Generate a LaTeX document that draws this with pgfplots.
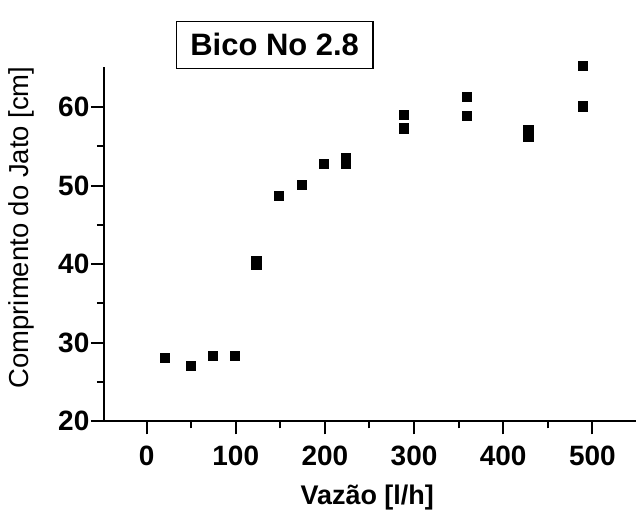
\documentclass[border=0pt]{standalone}
\usepackage{pgfplots}
\pgfplotsset{compat=1.18}
\usepackage{fontspec}
\setmainfont{Liberation Sans}

\pgfplotstableread{
x    y
20   28.1
49   27.1
74   28.4
99   28.4
123  40.4
123  39.9
148  48.7
174  50.1
199  52.8
223  53.5
223  52.8
288  59.0
288  57.3
359  61.3
359  58.9
428  57.1
428  56.2
489  65.2
489  60.1
}\jetdata

\begin{document}
\begin{tikzpicture}[x=1pt,y=1pt]
\begin{axis}[
  name=main,
  scale only axis,
  width=533pt, height=355pt,
  xmin=-48, xmax=549,
  ymin=20, ymax=65.1,
  axis x line*=bottom, axis y line*=left,
  axis line style={line width=2pt,-},
  xtick={0,100,...,500},
  minor xtick={50,150,...,450},
  ytick={20,30,...,60},
  minor ytick={25,35,...,55},
  tick align=outside,
  major tick length=13pt, minor tick length=7pt,
  every tick/.style={line width=2pt,black},
  /pgf/number format/assume math mode=true,
  tick label style={font=\bfseries\fontsize{28}{30}\selectfont},
  xticklabel style={yshift=-8pt},
  yticklabel style={xshift=2pt},
  xlabel={\bfseries Vazão [l/h]},
  ylabel={Comprimento do Jato [cm]},
  xlabel style={font=\fontsize{27}{30}\selectfont, at={(axis description cs:0.495,-0.215)}, anchor=center},
  ylabel style={font=\fontsize{27.5}{30}\selectfont, at={(axis description cs:-0.154,0.547)}, anchor=center},
  clip=false,
]
\addplot[only marks, mark=square*, mark size=4.6pt, black] table[x=x,y=y] {\jetdata};
\node[draw, line width=1.4pt, inner xsep=14pt, inner ysep=12pt,
      font=\bfseries\fontsize{31}{34}\selectfont]
  at (axis description cs:0.321,1.062) {Bico No 2.8};
\end{axis}
\path (main.south west) ++(-104pt,-94pt) rectangle ++(637pt,516pt);
\end{tikzpicture}
\end{document}
